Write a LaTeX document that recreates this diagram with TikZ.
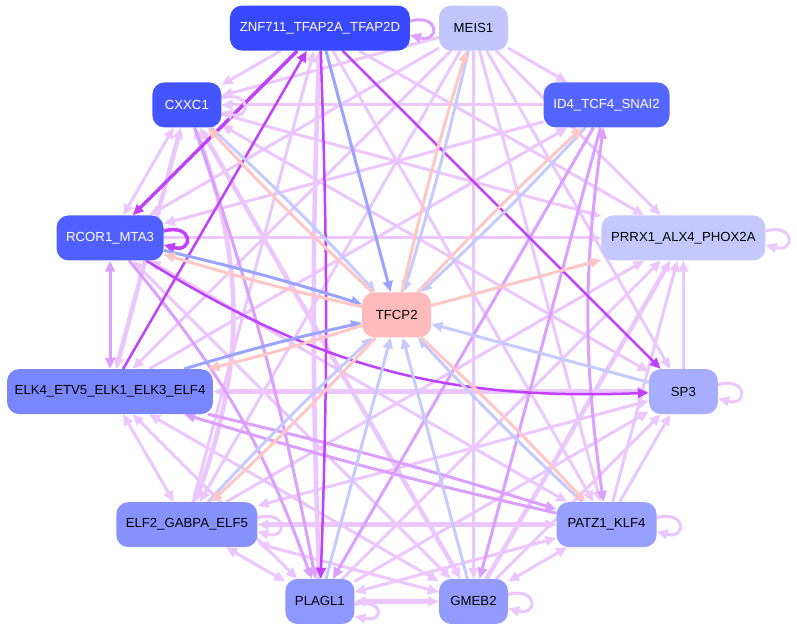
\documentclass[tikz,border=0pt]{standalone}
\usepackage{fontspec}
\setmainfont{Liberation Sans}
\usetikzlibrary{arrows.meta,calc}
\pgfdeclarelayer{edgelayer}
\pgfsetlayers{edgelayer,main}
\definecolor{lpc}{HTML}{EBC6FF}
\definecolor{mpc}{HTML}{DBA0FF}
\definecolor{dpc}{HTML}{C040FF}
\definecolor{blc}{HTML}{98A4FF}
\definecolor{lbc}{HTML}{C5CAFF}
\definecolor{pkc}{HTML}{FFC6C6}
\definecolor{cZ}{HTML}{3748FF}
\definecolor{cC}{HTML}{4455FF}
\definecolor{cR}{HTML}{5060FF}
\definecolor{cI}{HTML}{5565FF}
\definecolor{cEf}{HTML}{7A86FF}
\definecolor{cEt}{HTML}{8792FF}
\definecolor{cL}{HTML}{8F98FF}
\definecolor{cG}{HTML}{939BFF}
\definecolor{cK}{HTML}{979FFF}
\definecolor{cS}{HTML}{A7AEFF}
\definecolor{cP}{HTML}{C4C8FF}
\definecolor{cM}{HTML}{C2C6FF}
\definecolor{cT}{HTML}{FFBBBB}
\tikzset{
  nd/.style={rounded corners=12pt, minimum height=45pt, inner sep=0pt, font=\fontsize{13.2}{15}\selectfont},
  lp/.style={draw=lpc, line width=3pt},
  lpt/.style={draw=lpc, line width=4.5pt},
  mp/.style={draw=mpc, line width=3pt},
  dp/.style={draw=dpc, line width=2.5pt},
  dpt/.style={draw=dpc, line width=3.5pt},
  bl/.style={draw=blc, line width=3pt},
  lb/.style={draw=lbc, line width=3pt},
  pk/.style={draw=pkc, line width=3pt},
  par/.style={bend left=2},
}
\begin{document}
\begin{tikzpicture}[x=1pt,y=1pt,>={Triangle[length=11pt,width=9.5pt]}]
\begin{pgfonlayer}{edgelayer}
\useasboundingbox[fill=white] (0,0) rectangle (797,-632);
\end{pgfonlayer}
\coordinate (O) at (397,-315);
% nodes
\node[nd, fill=cZ, text=white, minimum width=180pt] (Z) at ($(O)+(105:297pt)$) {ZNF711\_TFAP2A\_TFAP2D};
\node[nd, fill=cM, minimum width=69pt] (M) at ($(O)+(75:297pt)$) {MEIS1};
\node[nd, fill=cI, text=white, minimum width=126pt] (I) at ($(O)+(45:297pt)$) {ID4\_TCF4\_SNAI2};
\node[nd, fill=cP, minimum width=164pt] (P) at ($(O)+(15:297pt)$) {PRRX1\_ALX4\_PHOX2A};
\node[nd, fill=cS, minimum width=69pt] (S) at ($(O)+(-15:297pt)$) {SP3};
\node[nd, fill=cK, minimum width=100pt] (K) at ($(O)+(-45:297pt)$) {PATZ1\_KLF4};
\node[nd, fill=cG, minimum width=69pt] (G) at ($(O)+(-75:297pt)$) {GMEB2};
\node[nd, fill=cL, minimum width=69pt] (L) at ($(O)+(-105:297pt)$) {PLAGL1};
\node[nd, fill=cEt, minimum width=141pt] (E2) at ($(O)+(-135:297pt)$) {ELF2\_GABPA\_ELF5};
\node[nd, fill=cEf, minimum width=206pt] (E4) at ($(O)+(-165:297pt)$) {ELK4\_ETV5\_ELK1\_ELK3\_ELF4};
\node[nd, fill=cR, text=white, minimum width=107pt] (R) at ($(O)+(165:297pt)$) {RCOR1\_MTA3};
\node[nd, fill=cC, text=white, minimum width=69pt] (C) at ($(O)+(135:297pt)$) {CXXC1};
\node[nd, fill=cT, minimum width=69pt] (T) at (O) {TFCP2};
\begin{pgfonlayer}{edgelayer}
% light purple edges
\draw[lp,->] (Z) -- (C);
\draw[lp,->] (M) -- (I);
\draw[lp,->] (S) -- (P);
\draw[lp,->] (K) -- (S);
\draw[lp,<->] (K) -- (G);
\draw[lpt,<->] (L) -- (G);
\draw[lp,<->] (L) -- (E2);
\draw[lp,<->] (E2) -- (E4);
\draw[lp,<->] (R) -- (C);
\draw[lp,->] (M) -- (P);
\draw[lp,->] (K) -- (P);
\draw[lp,->] (G) -- (S);
\draw[lp,<->] (L) -- (K);
\draw[lp,<->] (E2) -- (G);
\draw[lp,<->] (E4) -- (L);
\draw[lpt,<->] (C) -- (E4);
\draw[lp,->] (M) -- (C);
\draw[lp,->] (Z) -- (P);
\draw[lp,->] (M) -- (S);
\draw[lpt,->] (G) -- (P);
\draw[lp,->] (L) -- (S);
\draw[lpt,<->] (E2) -- (K);
\draw[lp,<->] (E4) -- (G);
\draw[lpt,<->] (C) to[bend left=20] (E2);
\draw[lp,->] (M) -- (R);
\draw[lp,->] (I) -- (C);
\draw[lp,->] (M) -- (K);
\draw[lp,->] (L) -- (P);
\draw[lp,<->] (E2) -- (S);
\draw[lp,<->] (R) -- (G);
\draw[lp,->] (E2) -- (Z);
\draw[lp,->] (M) -- (E4);
\draw[lp,->] (I) -- (R);
\draw[lp,->] (C) -- (P);
\draw[lp,->] (Z) -- (K);
\draw[lp,->] (M) -- (G);
\draw[lp,->] (E2) -- (P);
\draw[lpt,<->] (E4) -- (S);
\draw[lp,<->] (R) -- (K);
\draw[lpt,<->] (C) -- (G);
\draw[lpt,->,par] (L) to (Z);
\draw[lp,->] (M) -- (E2);
\draw[lp,->] (E4) -- (I);
\draw[lp,->] (R) -- (P);
\draw[lp,<->] (C) -- (S);
% medium purple edges
\draw[mp,<->] (E4) -- (R);
\draw[mp,<->] (I) to[bend right=8] (K);
\draw[mp,->] (I) -- (G);
\draw[mp,->] (I) -- (L);
\draw[mp,->] (R) to[bend left=10] (L);
\draw[mp,->] (C) to[bend left=4] (L);
\draw[mp,->,par] (E4) to (K);
\draw[mp,->,par] (K) to (E4);
% dark purple edges
\draw[dpt,->] (Z) -- (R);
\draw[dp,->] (E4) -- (Z);
\draw[dp,->,par] (Z) to (L);
\draw[dp,->] (Z) -- (S);
\draw[dp,->] (R) to[bend right=17] (S);
% loops
\draw[mp,->] ([yshift=7pt]Z.east) .. controls +(30pt,8pt) and +(30pt,-8pt) .. ([yshift=-7pt]Z.east);
\draw[lp,->] ([yshift=7pt]C.east) .. controls +(30pt,8pt) and +(30pt,-8pt) .. ([yshift=-7pt]C.east);
\draw[dpt,->] ([yshift=7pt]R.east) .. controls +(30pt,8pt) and +(30pt,-8pt) .. ([yshift=-7pt]R.east);
\draw[lp,->] ([yshift=7pt]P.east) .. controls +(30pt,8pt) and +(30pt,-8pt) .. ([yshift=-7pt]P.east);
\draw[lp,->] ([yshift=7pt]S.east) .. controls +(30pt,8pt) and +(30pt,-8pt) .. ([yshift=-7pt]S.east);
\draw[lp,->] ([yshift=7pt]K.east) .. controls +(30pt,8pt) and +(30pt,-8pt) .. ([yshift=-7pt]K.east);
\draw[lp,->] ([yshift=7pt]G.east) .. controls +(30pt,8pt) and +(30pt,-8pt) .. ([yshift=-7pt]G.east);
\draw[lp,->] ([yshift=-3pt]L.east) .. controls +(30pt,6pt) and +(30pt,-6pt) .. ([yshift=-15pt]L.east);
\draw[lp,->] ([yshift=7pt]E2.east) .. controls +(30pt,8pt) and +(30pt,-8pt) .. ([yshift=-7pt]E2.east);
% TFCP2 edges
\draw[bl,->] (Z) -- (T);
\draw[lb,->,par] (M) to (T);
\draw[pk,->,par] (T) to (M);
\draw[lb,->,par] (I) to (T);
\draw[pk,->,par] (T) to (I);
\draw[bl,->,par] (R) to (T);
\draw[pk,->,par] (T) to (R);
\draw[bl,->,par] (E4) to (T);
\draw[pk,->,par] (T) to (E4);
\draw[lb,->,par] (E2) to (T);
\draw[pk,->,par] (T) to (E2);
\draw[lb,->,par] (K) to (T);
\draw[pk,->,par] (T) to (K);
\draw[lb,->,par] (C) to (T);
\draw[pk,->,par] (T) to (C);
\draw[lb,->] (L) -- (T);
\draw[lb,->] (G) -- (T);
\draw[lb,->] (S) -- (T);
\draw[pk,->] (T) -- (P);
\end{pgfonlayer}
\end{tikzpicture}
\end{document}
